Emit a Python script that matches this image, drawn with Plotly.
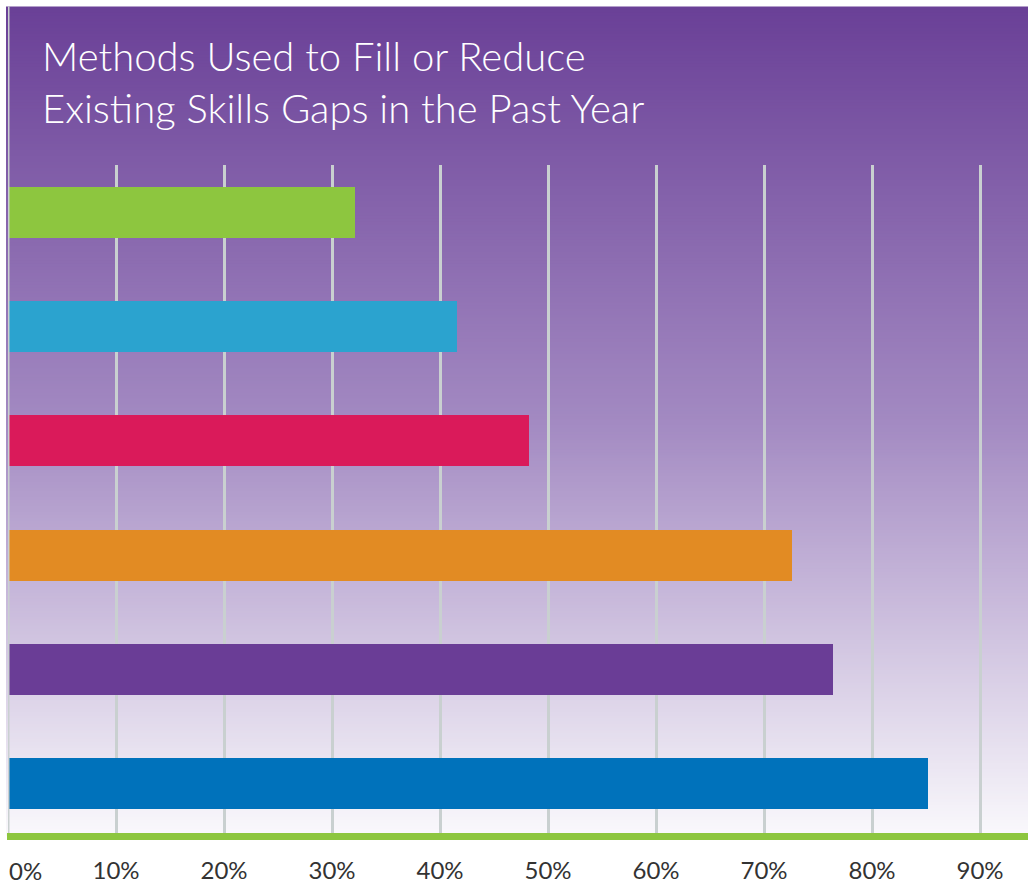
import plotly.graph_objects as go

# Methods used to fill or reduce skills gaps (share of respondents, %)
methods = ["Method A", "Method B", "Method C", "Method D", "Method E", "Method F"]
shares = [32.1, 41.6, 48.2, 72.6, 76.4, 85.2]
bar_colors = ["#8dc63f", "#2ba3cf", "#da1a5a", "#e28b23", "#6a3d96", "#0072bb"]
tick_values = [0, 10, 20, 30, 40, 50, 60, 70, 80, 90]
tick_labels = ["0%", "10%", "20%", "30%", "40%", "50%", "60%", "70%", "80%", "90%"]
title_lines = ["Methods Used to Fill or Reduce", "Existing Skills Gaps in the Past Year"]

W, H = 1028, 884
PLOT_TOP, PLOT_BOTTOM, PLOT_LEFT = 165, 838, 8
plot_h = PLOT_BOTTOM - PLOT_TOP


def py(pixel_y):
    """Convert a pixel row to paper y coordinate."""
    return (PLOT_BOTTOM - pixel_y) / plot_h


def px(pixel_x):
    return (pixel_x - PLOT_LEFT) / (W - PLOT_LEFT)


fig = go.Figure()
fig.add_trace(go.Bar(
    x=shares,
    y=list(range(len(methods))),
    orientation="h",
    marker=dict(color=bar_colors, line=dict(width=0)),
    width=0.445,
    hovertext=methods,
    hoverinfo="text+x",
))

# vertical gradient backdrop, purple at the top fading to near white
shapes = []
top_px, bot_px = 6, PLOT_BOTTOM
c_top = (106, 64, 151)
c_mid = (163, 138, 194)
c_bot = (250, 249, 252)
step = 3
y = top_px
while y < bot_px:
    t = (y - top_px) / (bot_px - top_px)
    if t < 0.5:
        a, b, f = c_top, c_mid, t / 0.5
    else:
        a, b, f = c_mid, c_bot, (t - 0.5) / 0.5
    col = tuple(round(a[i] + (b[i] - a[i]) * f) for i in range(3))
    shapes.append(dict(
        type="rect", xref="paper", yref="paper",
        x0=px(6), x1=1.0, y0=py(min(y + step + 1, bot_px)), y1=py(y),
        fillcolor="rgb(%d,%d,%d)" % col, line=dict(width=0), layer="below",
    ))
    y += step

# left axis line running to the top edge
shapes.append(dict(
    type="line", xref="x", yref="paper", x0=0, x1=0, y0=0, y1=py(6),
    line=dict(color="#c9d0d0", width=3), layer="above",
))
# green baseline
shapes.append(dict(
    type="line", xref="paper", yref="paper", x0=px(7), x1=1.0, y0=py(838.5), y1=py(838.5),
    line=dict(color="#8dc63f", width=7), layer="above",
))

annotations = [dict(
    text="<br>".join(title_lines), xref="paper", yref="paper", x=px(40), y=py(82),
    xanchor="left", yanchor="middle", align="left", showarrow=False,
    font=dict(family="Lato", size=40, color="white", weight=300),
)]
# first tick label sits flush with the left edge
annotations.append(dict(
    text=tick_labels[0], xref="x", yref="paper", x=tick_values[0], y=py(873),
    xanchor="left", yanchor="middle", showarrow=False, xshift=-1,
    font=dict(family="Lato", size=24, color="#333333"),
))

fig.update_layout(
    width=W, height=H,
    margin=dict(l=PLOT_LEFT, r=0, t=PLOT_TOP, b=H - PLOT_BOTTOM, pad=0),
    paper_bgcolor="white",
    plot_bgcolor="rgba(0,0,0,0)",
    showlegend=False,
    shapes=shapes,
    annotations=annotations,
    bargap=0,
    xaxis=dict(
        range=[0, (W - PLOT_LEFT) / 10.8],
        tickvals=tick_values,
        ticktext=[""] + tick_labels[1:],
        showgrid=True, gridcolor="#c9d0d0", gridwidth=3,
        zeroline=False, showline=False,
        ticks="outside", ticklen=13, tickcolor="rgba(0,0,0,0)",
        tickfont=dict(family="Lato", size=24, color="#333333"),
        fixedrange=True,
    ),
    yaxis=dict(
        range=[5.458, -0.4145],
        showgrid=False, zeroline=False, showticklabels=False, ticks="",
        fixedrange=True,
    ),
)

fig.write_html("out.html")
